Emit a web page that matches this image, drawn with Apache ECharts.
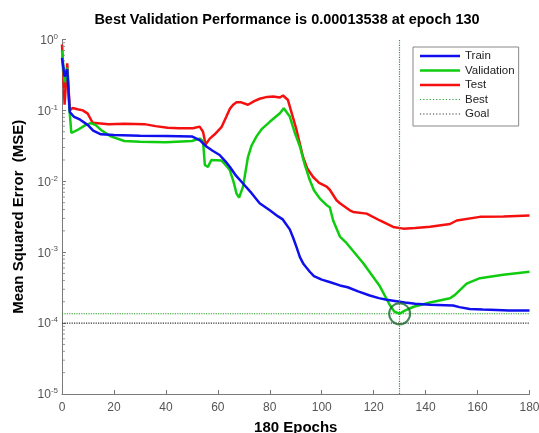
<!DOCTYPE html>
<html>
<head>
<meta charset="utf-8">
<script src="https://cdn.jsdelivr.net/npm/echarts@6/dist/echarts.min.js"></script>
<style>
  html, body { margin: 0; padding: 0; background: #fff; }
  #chart { width: 539px; height: 433px; }
</style>
</head>
<body>
<div id="chart"></div>
<script>
// Training record of a neural network: mean squared error per epoch
const trainEpochs = [0, 1, 2, 3, 4.5, 7, 10, 12, 15, 20, 30, 40, 50, 53, 55.6, 58, 60.7, 63, 64.6, 67, 69.7, 73, 76.1, 80, 83.2, 85, 87.7, 89, 90.3, 91.6, 93, 95.4, 97, 100, 103, 107, 110, 114, 118.5, 122, 125, 128.8, 132, 136, 141.7, 150.6, 153, 157, 162, 167.4, 172, 180];
const trainMSE = [0.55, 0.3, 0.38, 0.095, 0.082, 0.074, 0.062, 0.052, 0.046, 0.045, 0.044, 0.0435, 0.043, 0.038, 0.031, 0.027, 0.0235, 0.019, 0.016, 0.012, 0.0093, 0.0068, 0.0049, 0.0039, 0.0032, 0.0029, 0.0021, 0.0016, 0.00118, 0.00085, 0.00068, 0.00053, 0.00046, 0.00041, 0.00038, 0.00034, 0.00032, 0.00028, 0.000245, 0.000225, 0.000213, 0.000204, 0.000195, 0.000188, 0.000182, 0.000177, 0.000168, 0.000158, 0.000155, 0.000153, 0.000151, 0.00015];

const valEpochs = [0, 1, 2, 2.8, 3.6, 6, 9, 11.1, 13, 15, 18.8, 24, 30, 40, 50, 53, 54.3, 55, 56.2, 57.5, 61.4, 63, 64.6, 66, 67.2, 68.2, 69.7, 71.6, 73, 74.9, 77, 80, 83.9, 85.4, 87.7, 89.5, 91.6, 93.5, 95.4, 97, 99.3, 101.9, 103.1, 104.4, 107, 109.6, 116, 122.4, 126.2, 128, 130, 132, 135.4, 141.7, 149.4, 151.3, 155.8, 160.9, 169.9, 180];
const valMSE = [0.7, 0.25, 0.4, 0.11, 0.048, 0.053, 0.062, 0.066, 0.062, 0.053, 0.043, 0.037, 0.036, 0.0355, 0.037, 0.04, 0.037, 0.017, 0.016, 0.02, 0.0196, 0.017, 0.0144, 0.01, 0.0067, 0.0059, 0.0084, 0.022, 0.032, 0.043, 0.055, 0.069, 0.091, 0.107, 0.082, 0.05, 0.031, 0.017, 0.0104, 0.0075, 0.0057, 0.0046, 0.0043, 0.0028, 0.00166, 0.00134, 0.0007, 0.00033, 0.00018, 0.000145, 0.00013538, 0.00015, 0.00017, 0.000195, 0.000224, 0.00025, 0.00036, 0.00043, 0.00048, 0.00053];

const testEpochs = [0, 1, 2, 3, 4.1, 4.7, 6, 8, 9.9, 11.8, 12.4, 18, 24, 31.7, 36, 40.7, 45, 50.4, 53, 54.3, 55.3, 56.9, 58.8, 61.4, 63.3, 64.6, 65.9, 67.2, 69, 71.6, 74, 76.1, 79, 81.3, 83.9, 85.1, 87, 90.3, 92.8, 94.5, 96.7, 99, 101.9, 103.1, 105.7, 107, 110.8, 112.1, 117.3, 122.4, 127.5, 131.4, 136, 141.7, 149.4, 152, 160.9, 170, 180];
const testMSE = [0.85, 0.12, 0.46, 0.1, 0.108, 0.112, 0.104, 0.1, 0.09, 0.067, 0.064, 0.064, 0.065, 0.064, 0.06, 0.057, 0.056, 0.056, 0.059, 0.05, 0.033, 0.04, 0.046, 0.058, 0.082, 0.105, 0.12, 0.13, 0.13, 0.12, 0.135, 0.146, 0.155, 0.157, 0.152, 0.162, 0.14, 0.053, 0.022, 0.015, 0.0115, 0.0095, 0.0084, 0.0076, 0.0054, 0.0049, 0.0039, 0.0037, 0.0035, 0.0028, 0.00227, 0.00215, 0.0022, 0.00229, 0.0025, 0.0028, 0.00315, 0.0032, 0.0033];

const bestEpoch = 130;
const bestPerf = 0.00013538;
const goal = 1e-4;
const maxEpoch = 180;

// minor tick positions for the log axis (2..9 within each decade)
const minorTicks = [];
for (let e = -5; e < 0; e++) {
  for (let k = 2; k <= 9; k++) minorTicks.push([0, k * Math.pow(10, e)]);
}

const zip = (xs, ys) => xs.map((x, i) => [x, ys[i]]);

// legend glyphs: a solid bar and a row of dots
const solidIcon = 'path://M0,0H40V2.4H0Z';
let dots = '';
for (let x = 0; x < 40; x += 3.3) dots += 'M' + x.toFixed(1) + ',0.6h1.2v1.2h-1.2Z';
const dotIcon = 'path://M0,0H0.01V2.4H0Z' + dots;

const FONT = 'Liberation Sans, Arial, sans-serif';
const chart = echarts.init(document.getElementById('chart'), null, { renderer: 'canvas' });

chart.setOption({
  animation: false,
  backgroundColor: '#ffffff',
  textStyle: { fontFamily: FONT },
  title: {
    text: 'Best Validation Performance is ' + bestPerf + ' at epoch ' + bestEpoch,
    left: 282, top: 7, textAlign: 'center',
    textStyle: { fontFamily: FONT, fontSize: 14.5, fontWeight: 'bold', color: '#000' }
  },
  grid: { left: 62, right: 9.5, top: 39.5, bottom: 39, containLabel: false, outerBoundsMode: 'none' },
  legend: {
    orient: 'vertical',
    left: 413, top: 47,
    padding: [3, 4, 6, 7],
    itemWidth: 40, itemHeight: 12, itemGap: 2.5,
    backgroundColor: '#fff',
    borderColor: '#888', borderWidth: 1,
    textStyle: { fontFamily: FONT, fontSize: 11.5, color: '#222' },
    data: [
      { name: 'Train', icon: solidIcon },
      { name: 'Validation', icon: solidIcon },
      { name: 'Test', icon: solidIcon },
      { name: 'Best', icon: dotIcon },
      { name: 'Goal', icon: dotIcon }
    ]
  },
  xAxis: {
    type: 'value', min: 0, max: maxEpoch, interval: 20,
    name: maxEpoch + ' Epochs',
    nameLocation: 'middle', nameGap: 26,
    nameTextStyle: { fontFamily: FONT, fontSize: 15, fontWeight: 'bold', color: '#000' },
    axisLine: { lineStyle: { color: '#7a7a7a', width: 1 } },
    axisTick: { inside: true, length: 4, lineStyle: { color: '#7a7a7a' } },
    axisLabel: { color: '#555', fontSize: 12, margin: 8, fontFamily: FONT },
    splitLine: { show: false }
  },
  yAxis: {
    type: 'log', logBase: 10, min: 1e-5, max: 1,
    name: 'Mean Squared Error  (MSE)',
    nameLocation: 'middle', nameGap: 26,
    nameTextStyle: { fontFamily: FONT, fontSize: 15, fontWeight: 'bold', color: '#000' },
    axisLine: { show: true, lineStyle: { color: '#7a7a7a', width: 1 } },
    axisTick: { show: true, inside: true, length: 4, lineStyle: { color: '#7a7a7a' } },
    axisLabel: {
      margin: 4,
      formatter: v => '{b|10}{e|' + Math.round(Math.log10(v)) + '}',
      rich: {
        b: { fontSize: 12, color: '#555', fontFamily: FONT, verticalAlign: 'bottom', lineHeight: 14 },
        e: { fontSize: 8, color: '#555', fontFamily: FONT, verticalAlign: 'top', lineHeight: 14, padding: [0, 0, 7, 0] }
      }
    },
    splitLine: { show: false }
  },
  series: [
    {
      name: 'Train', type: 'line', data: zip(trainEpochs, trainMSE),
      showSymbol: false, symbol: 'none', z: 4,
      lineStyle: { color: '#1010ee', width: 2.5 }, itemStyle: { color: '#1010ee' }
    },
    {
      name: 'Validation', type: 'line', data: zip(valEpochs, valMSE),
      showSymbol: false, symbol: 'none', z: 3,
      lineStyle: { color: '#10cc10', width: 2.5 }, itemStyle: { color: '#10cc10' }
    },
    {
      name: 'Test', type: 'line', data: zip(testEpochs, testMSE),
      showSymbol: false, symbol: 'none', z: 2,
      lineStyle: { color: '#f51010', width: 2.5 }, itemStyle: { color: '#f51010' }
    },
    {
      // horizontal best-performance level plus the vertical best-epoch marker
      name: 'Best', type: 'line', data: [[0, bestPerf], [maxEpoch, bestPerf]],
      symbol: 'none', z: 1, silent: true,
      lineStyle: { color: '#2a9a2a', width: 1.2, type: 'dotted' }, itemStyle: { color: '#2a9a2a' },
      markLine: {
        silent: true, symbol: 'none', label: { show: false },
        lineStyle: { color: '#2a9a2a', width: 1.2, type: 'dotted' },
        data: [{ xAxis: bestEpoch }]
      }
    },
    {
      name: 'Goal', type: 'line', data: [[0, goal], [maxEpoch, goal]],
      symbol: 'none', z: 1, silent: true,
      lineStyle: { color: '#333', width: 1.2, type: 'dotted' }, itemStyle: { color: '#333' }
    },
    {
      name: 'bestPoint', type: 'scatter', data: [[bestEpoch, bestPerf]],
      symbol: 'circle', symbolSize: 21, z: 6, silent: true,
      itemStyle: { color: 'rgba(0,0,0,0)', borderColor: '#17692a', borderWidth: 2 }
    },
    {
      name: 'minorTicks', type: 'scatter', data: minorTicks, clip: false,
      symbol: 'rect', symbolSize: [3, 1], symbolOffset: [1.5, 0], silent: true,
      itemStyle: { color: '#7a7a7a' }
    }
  ]
});
</script>
</body>
</html>
